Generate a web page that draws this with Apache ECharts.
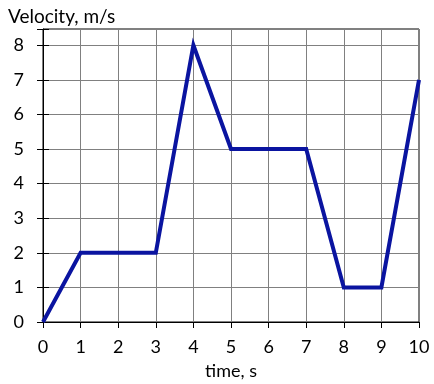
<!DOCTYPE html>
<html>
<head>
<meta charset="utf-8">
<script src="https://cdn.jsdelivr.net/npm/echarts@6/dist/echarts.min.js"></script>
<style>html,body{margin:0;padding:0;background:#fff}#c{width:434px;height:384px}</style>
</head>
<body>
<div id="c"></div>
<script>
const timeValues = [0, 1, 3, 4, 5, 7, 8, 9, 10];
const velocityValues = [0, 2, 2, 8, 5, 5, 1, 1, 7];
const xTickLabels = ['0','1','2','3','4','5','6','7','8','9','10'];
const yTickLabels = ['0','1','2','3','4','5','6','7','8'];
const yTitle = 'Velocity, m/s';
const xTitle = 'time, s';

const FONT = 'Lato, "Open Sans", sans-serif';
const Y_MAX = 8.47;
const chart = echarts.init(document.getElementById('c'));
const points = timeValues.map((t, i) => [t, velocityValues[i]]);
const isInt = v => Math.abs(v - Math.round(v)) < 1e-6;

chart.setOption({
  animation: false,
  title: {
    text: yTitle, left: 3, top: 2,
    textStyle: { fontFamily: FONT, fontSize: 19, fontWeight: 'normal', color: '#000' }
  },
  grid: { left: 43, right: 15, top: 29, bottom: 62, show: true, borderColor: '#000', borderWidth: 1,
    outerBoundsMode: 'none', containLabel: false },
  xAxis: {
    type: 'value', min: 0, max: 10, interval: 1,
    name: xTitle, nameLocation: 'middle', nameGap: 40,
    nameTextStyle: { fontFamily: FONT, fontSize: 18, color: '#000' },
    axisLine: { show: true, lineStyle: { color: '#000', width: 1 } },
    axisTick: { show: true, length: 6, lineStyle: { color: '#000' } },
    axisLabel: { fontFamily: FONT, fontSize: 18, color: '#000', margin: 16,
      formatter: v => isInt(v) ? xTickLabels[Math.round(v)] : '' },
    splitLine: { show: true, lineStyle: { color: '#808080', width: 1 } }
  },
  yAxis: [{
    type: 'value', min: 0, max: Y_MAX, interval: 1,
    axisLine: { show: true, lineStyle: { color: '#000', width: 1 } },
    axisTick: { show: true, length: 6, lineStyle: { color: '#000' } },
    axisLabel: { fontFamily: FONT, fontSize: 18, color: '#000', margin: 19,
      formatter: v => isInt(v) ? yTickLabels[Math.round(v)] : '' },
    splitLine: { show: true, lineStyle: { color: '#808080', width: 1 } }
  }, {
    type: 'value', min: 0, max: Y_MAX, interval: 1, position: 'left',
    axisLine: { show: false },
    axisTick: { show: true, inside: true, length: 6, lineStyle: { color: '#000' } },
    axisLabel: { show: false },
    splitLine: { show: false }
  }],
  series: [{
    type: 'line', data: points, yAxisIndex: 0,
    symbol: 'none', lineStyle: { color: '#0a14a0', width: 4, join: 'miter' },
    z: 5
  }]
});
</script>
</body>
</html>
